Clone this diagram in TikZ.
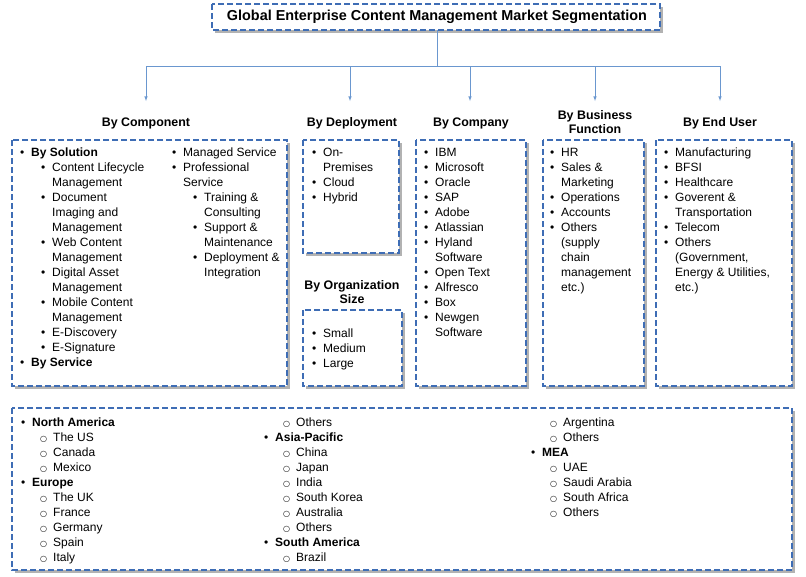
\documentclass[tikz,border=0pt]{standalone}
\usepackage{fontspec}
\setmainfont{Liberation Sans}
\newfontfamily\symfont{DejaVu Sans}
\definecolor{boxblue}{HTML}{3E6DB5}
\definecolor{linkblue}{HTML}{6A97CF}
\tikzset{
  box/.style={draw=boxblue, line width=1.6pt, dash pattern=on 6pt off 3pt, fill=white},
  shade/.style={fill=black!30},
  head/.style={font=\bfseries\fontsize{12.4}{14}\selectfont, align=center},
  txt/.style={font=\fontsize{12}{14}\selectfont, anchor=base west, inner sep=0pt},
  link/.style={draw=linkblue, line width=0.6pt},
}
% one column of a list: bullet x, first line y, entries kind/text
% kind 0: continuation, 1: bullet, 2: sub bullet, 3: sub continuation, 4: circle bullet
\newcommand\listcol[3]{%
  \foreach \k/\t [count=\i from 0] in {#3}{
    \pgfmathsetmacro\yy{#2+4+15*\i}
    \ifcase\k\relax
      \node[txt] at (#1+11,\yy) {\t};
    \or
      \node[txt] at (#1,\yy) {\textbullet};
      \node[txt] at (#1+11,\yy) {\t};
    \or
      \node[txt] at (#1+21,\yy) {\textbullet};
      \node[txt] at (#1+32,\yy) {\t};
    \or
      \node[txt] at (#1+32,\yy) {\t};
    \or
      \node[txt] at (#1+19,\yy) {\symfont\footnotesize ○};
      \node[txt] at (#1+32,\yy) {\t};
    \fi
  }}
\newcommand\dbox[4]{%
  \fill[shade] (#1+2.5,#2+2.5) rectangle (#3+2.5,#4+2.5);
  \draw[box] (#1,#2) rectangle (#3,#4);}
\begin{document}
\begin{tikzpicture}[x=1pt,y=-1pt]
\useasboundingbox (0,0) rectangle (806,576);
% title and links
\dbox{212}{4}{660}{30}
\node[head, font=\bfseries\fontsize{14.4}{16}\selectfont] (title) at (437,17)
  {Global Enterprise Content Management Market Segmentation};
\coordinate (hub) at (437,66);
\coordinate (a1) at (146,101);
\coordinate (a2) at (350,101);
\coordinate (a3) at (470,101);
\coordinate (a4) at (595,101);
\coordinate (a5) at (720,101);
\draw[link] (437,30) -- (hub);
\draw[link] (a1 |- hub) -- (a5 |- hub);
\foreach \a in {a1,a2,a3,a4,a5}
  \draw[link,-latex] (\a |- hub) -- (\a);
% headings
\node[head] (hcomp) at (146,123) {By Component};
\node[head] (hdep) at (352,123) {By Deployment};
\node[head] (hco) at (471,123) {By Company};
\node[head] (hbus) at (595,122) {By Business\\Function};
\node[head] (huser) at (720,123) {By End User};
\node[head] (horg) at (352,292) {By Organization\\Size};
% boxes
\dbox{12}{140}{287}{386}
\dbox{303}{140}{399}{253}
\dbox{303}{310}{402}{386}
\dbox{416}{140}{526}{386}
\dbox{543}{140}{644}{386}
\dbox{656}{140}{792}{386}
\dbox{12}{408}{792}{570}
% lists
\listcol{20}{152}{1/\textbf{By Solution}, 2/Content Lifecycle, 3/Management, 2/Document, 3/Imaging and,
  3/Management, 2/Web Content, 3/Management, 2/Digital Asset, 3/Management, 2/Mobile Content,
  3/Management, 2/E-Discovery, 2/E-Signature, 1/\textbf{By Service}}
\listcol{172}{152}{1/Managed Service, 1/Professional, 0/Service, 2/Training \&, 3/Consulting,
  2/Support \&, 3/Maintenance, 2/Deployment \&, 3/Integration}
\listcol{312}{152}{1/On-, 0/Premises, 1/Cloud, 1/Hybrid}
\listcol{312}{333}{1/Small, 1/Medium, 1/Large}
\listcol{424}{152}{1/IBM, 1/Microsoft, 1/Oracle, 1/SAP, 1/Adobe, 1/Atlassian, 1/Hyland, 0/Software,
  1/Open Text, 1/Alfresco, 1/Box, 1/Newgen, 0/Software}
\listcol{550}{152}{1/HR, 1/Sales \&, 0/Marketing, 1/Operations, 1/Accounts, 1/Others, 0/(supply,
  0/chain, 0/management, 0/etc.)}
\listcol{664}{152}{1/Manufacturing, 1/BFSI, 1/Healthcare, 1/Goverent \&, 0/Transportation,
  1/Telecom, 1/Others, 0/{(Government,}, 0/{Energy \& Utilities,}, 0/etc.)}
\listcol{21}{422}{1/\textbf{North America}, 4/The US, 4/Canada, 4/Mexico, 1/\textbf{Europe},
  4/The UK, 4/France, 4/Germany, 4/Spain, 4/Italy}
\listcol{264}{422}{4/Others, 1/\textbf{Asia-Pacific}, 4/China, 4/Japan, 4/India, 4/South Korea,
  4/Australia, 4/Others, 1/\textbf{South America}, 4/Brazil}
\listcol{531}{422}{4/Argentina, 4/Others, 1/\textbf{MEA}, 4/UAE, 4/Saudi Arabia, 4/South Africa,
  4/Others}
\end{tikzpicture}
\end{document}
